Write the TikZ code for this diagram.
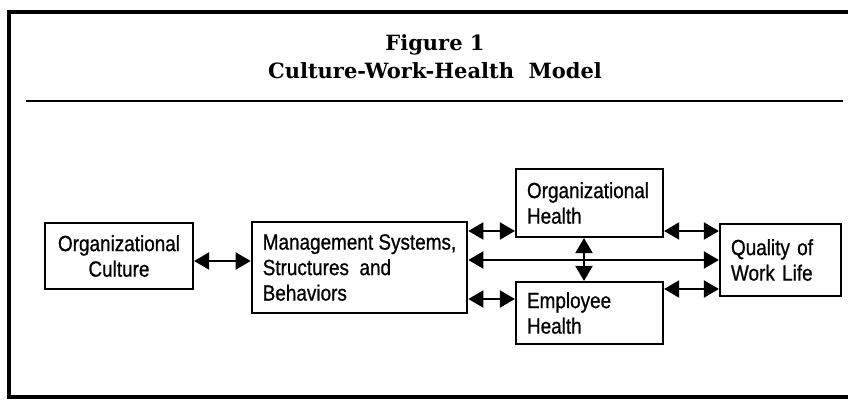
\documentclass[tikz,border=0pt]{standalone}
\usepackage{fontspec}
\setmainfont[FakeStretch=0.86, FakeBold=0.8]{Liberation Sans}
\newfontfamily\titlefont{DejaVu Serif}
\usetikzlibrary{arrows.meta}

\tikzset{
  box/.style={draw, line width=2.2pt, inner xsep=11pt, inner ysep=0pt, align=left,
    font=\fontsize{22}{25.5}\selectfont},
  link/.style={{Triangle[length=15pt,width=17pt]}-{Triangle[length=15pt,width=17pt]}, line width=2pt}
}

\begin{document}
\begin{tikzpicture}[x=1pt,y=-1pt]
\useasboundingbox (0,0) rectangle (848,399);

% frame and rule
\draw[line width=3.2pt] (848,12) -- (9,12) -- (9,397) -- (848,397);
\draw[line width=2.2pt] (26,101) -- (843,101);

\node[font=\titlefont\bfseries\fontsize{21}{28}\selectfont, align=center] (title) at (435,57)
  {Figure 1\\Culture-Work-Health\ \ Model};

% boxes
\node[box, align=center, text width=126pt, minimum height=66pt] (culture) at (119,256) {Organizational\\Culture};
\node[box, minimum width=209pt, minimum height=91pt] (mgmt) at (359.5,267.5) {Management Systems,\\Structures\ \ and\\Behaviors};
\node[box, text width=125pt, minimum height=68pt] (orghealth) at (589.5,203) {Organizational\\Health};
\node[box, text width=125pt, minimum height=62pt] (emphealth) at (589.5,313) {Employee\\Health};
\node[box, text width=99pt, minimum height=72pt] (quality) at (780.5,260) {Quality of\\Work Life};

% links
\draw[link] (culture.east |- 0,261) -- (mgmt.west |- 0,261);
\draw[link] (mgmt.east |- 0,231) -- (orghealth.west |- 0,231);
\draw[link] (mgmt.east |- 0,260) -- (quality.west |- 0,260);
\draw[link] (mgmt.east |- 0,299) -- (emphealth.west |- 0,299);
\draw[link] (orghealth.east |- 0,231) -- (quality.west |- 0,231);
\draw[link] (emphealth.east |- 0,289) -- (quality.west |- 0,289);
\draw[link] (orghealth.south -| 584,0) -- (emphealth.north -| 584,0);
\end{tikzpicture}
\end{document}
